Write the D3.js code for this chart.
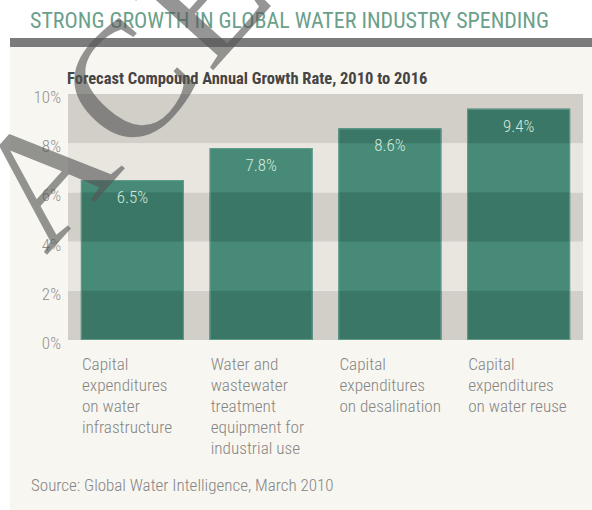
<!DOCTYPE html>
<html>
<head>
<meta charset="utf-8">
<script src="https://cdn.jsdelivr.net/npm/d3@7"></script>
<style>
  body { margin: 0; background: #fff; }
  text { font-family: "Roboto Condensed", "Liberation Sans", sans-serif; }
</style>
</head>
<body>
<div id="chart"></div>
<script>
// chart data
var categories = ["infra", "industrial", "desal", "reuse"];
var categoryLabels = [
  ["Capital", "expenditures", "on water", "infrastructure"],
  ["Water and", "wastewater", "treatment", "equipment for", "industrial use"],
  ["Capital", "expenditures", "on desalination"],
  ["Capital", "expenditures", "on water reuse"]
];
var growthRates = [6.5, 7.8, 8.6, 9.4];
var yTicks = [0, 2, 4, 6, 8, 10];

var W = 592, H = 510;
var plotLeft = 68, plotRight = 583;

var svg = d3.select("#chart")
  .append("svg")
  .attr("width", W)
  .attr("height", H);

// white header, grey rule, beige panel
svg.append("rect").attr("x", 0).attr("y", 0).attr("width", W).attr("height", H).attr("fill", "#ffffff");
svg.append("rect").attr("x", 10).attr("y", 47).attr("width", W - 10).attr("height", H - 47).attr("fill", "#f8f6f0");
svg.append("rect").attr("x", 10).attr("y", 38).attr("width", W - 10).attr("height", 9).attr("fill", "#7b7b7b");

svg.append("text")
  .attr("x", 30).attr("y", 28)
  .style("font-size", "22px")
  .style("fill", "#6aa08a")
  .text("STRONG GROWTH IN GLOBAL WATER INDUSTRY SPENDING");

svg.append("text")
  .attr("x", 67).attr("y", 84)
  .style("font-size", "16.5px")
  .style("font-weight", "bold")
  .style("fill", "#454545")
  .text("Forecast Compound Annual Growth Rate, 2010 to 2016");

// scales
var xScale = d3.scaleBand()
  .domain(categories)
  .range([plotLeft, plotRight])
  .paddingInner(0.2)
  .paddingOuter(0.1);

var yScale = d3.scaleLinear()
  .domain([0, 10])
  .range([340, 94]);

// alternating background bands
var bands = d3.pairs(yTicks);
svg.selectAll(".band")
  .data(bands)
  .enter()
  .append("rect")
  .attr("class", "band")
  .attr("x", plotLeft)
  .attr("width", plotRight - plotLeft)
  .attr("y", function(d) { return yScale(d[1]); })
  .attr("height", function(d) { return yScale(d[0]) - yScale(d[1]); })
  .attr("fill", function(d, i) { return i % 2 == 0 ? "#d2cec8" : "#e9e6e0"; });

// bars
var data = categories.map(function(c, i) { return {key: c, value: growthRates[i], lines: categoryLabels[i]}; });

svg.selectAll(".bar")
  .data(data)
  .enter()
  .append("rect")
  .attr("class", "bar")
  .attr("x", function(d) { return xScale(d.key); })
  .attr("width", xScale.bandwidth())
  .attr("y", function(d) { return yScale(d.value); })
  .attr("height", function(d) { return yScale(0) - yScale(d.value); })
  .attr("fill", "#478a77");

// darker stripes inside the bars where they cross the dark bands
data.forEach(function(d) {
  bands.forEach(function(b, i) {
    if (i % 2 != 0 || b[0] >= d.value) return;
    var top = Math.min(b[1], d.value);
    svg.append("rect")
      .attr("x", xScale(d.key))
      .attr("width", xScale.bandwidth())
      .attr("y", yScale(top))
      .attr("height", yScale(b[0]) - yScale(top))
      .attr("fill", "#3b7766");
  });
});

// thin light edge round each bar
svg.selectAll(".edge")
  .data(data)
  .enter()
  .append("rect")
  .attr("class", "edge")
  .attr("x", function(d) { return xScale(d.key) + 0.5; })
  .attr("width", xScale.bandwidth() - 1)
  .attr("y", function(d) { return yScale(d.value) + 0.5; })
  .attr("height", function(d) { return yScale(0) - yScale(d.value) - 1; })
  .attr("fill", "none")
  .attr("stroke", "#5f9c8a")
  .attr("stroke-width", 1);

// value labels
svg.selectAll(".val")
  .data(data)
  .enter()
  .append("text")
  .attr("class", "val")
  .attr("x", function(d) { return xScale(d.key) + xScale.bandwidth() / 2; })
  .attr("y", function(d) { return yScale(d.value) + 23; })
  .attr("text-anchor", "middle")
  .style("font-size", "17px")
  .style("font-weight", 300)
  .style("fill", "#d2eadf")
  .text(function(d) { return d.value + "%"; });

// y axis labels
svg.selectAll(".ylab")
  .data(yTicks)
  .enter()
  .append("text")
  .attr("class", "ylab")
  .attr("x", 61)
  .attr("y", function(d) { return yScale(d) + 9; })
  .attr("text-anchor", "end")
  .style("font-size", "17px")
  .style("font-weight", 300)
  .style("fill", "#929292")
  .text(function(d) { return d + "%"; });

// category labels
svg.selectAll(".cat")
  .data(data)
  .enter()
  .append("text")
  .attr("class", "cat")
  .style("font-size", "17.2px")
  .style("font-weight", 300)
  .style("fill", "#858585")
  .each(function(d) {
    var t = d3.select(this);
    d.lines.forEach(function(line, j) {
      t.append("tspan")
        .attr("x", xScale(d.key) + 1)
        .attr("y", 370 + j * 21)
        .text(line);
    });
  });

svg.append("text")
  .attr("x", 31).attr("y", 491)
  .style("font-size", "17px")
  .style("font-weight", 300)
  .style("fill", "#858585")
  .text("Source: Global Water Intelligence, March 2010");

// diagonal watermark
svg.append("text")
  .attr("transform", "translate(46,256) rotate(-48)")
  .style("font-family", "'Liberation Serif', serif")
  .style("font-size", "165px")
  .style("letter-spacing", "8px")
  .style("fill", "#555")
  .style("opacity", 0.62)
  .text("ACE");
</script>
</body>
</html>
